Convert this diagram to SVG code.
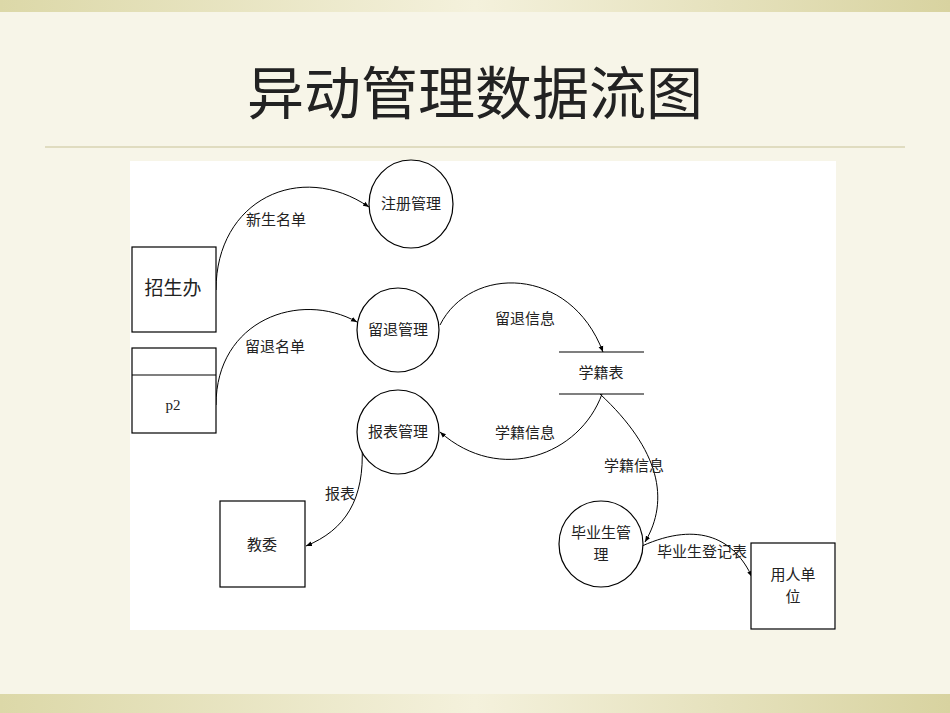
<svg xmlns="http://www.w3.org/2000/svg" width="950" height="713" viewBox="0 0 950 713">
<defs>
<linearGradient id="bar" x1="0" x2="1"><stop offset="0" stop-color="#dcd8a8"/><stop offset="0.5" stop-color="#f4f1dc"/><stop offset="1" stop-color="#d8d3a0"/></linearGradient>
<marker id="ar" viewBox="0 0 10 10" refX="10" refY="5" markerWidth="6" markerHeight="6" orient="auto"><path d="M0,1 L10,5 L0,9 z" fill="#000"/></marker>
</defs>
<style>
.n{fill:#fff;stroke:#000;stroke-width:1.2}
.c{fill:none;stroke:#000;stroke-width:1;marker-end:url(#ar)}
text{font-family:"Liberation Serif","Noto Sans CJK SC",serif;font-size:15px;fill:#222;text-anchor:middle}
</style>
<rect width="950" height="713" fill="#f7f5e8"/>
<rect width="950" height="12" fill="url(#bar)"/>
<rect y="694" width="950" height="19" fill="url(#bar)"/>
<text x="475" y="114" style="font-family:'Noto Sans CJK SC',sans-serif;font-size:57px;fill:#222">异动管理数据流图</text>
<line x1="45" y1="147" x2="905" y2="147" stroke="#e0dcc0" stroke-width="2"/>
<rect x="130" y="161" width="706" height="469" fill="#fff"/>
<g id="connectors">
<path class="c" d="M216,290 C216,200 300,160 369,207"/>
<path class="c" d="M216,405 C216,320 300,290 357,322"/>
<path class="c" d="M440,325 C470,265 570,265 603,352"/>
<path class="c" d="M602,394 C580,455 500,485 440,432"/>
<path class="c" d="M600,394 C660,450 670,500 645,542"/>
<path class="c" d="M362,445 C365,500 345,530 306,546"/>
<path class="c" d="M642,546 C700,520 735,540 752,577"/>
<text x="276" y="225">新生名单</text>
<text x="275" y="352">留退名单</text>
<text x="525" y="324">留退信息</text>
<text x="525" y="438">学籍信息</text>
<text x="634" y="471">学籍信息</text>
<text x="340" y="499">报表</text>
<text x="702" y="557">毕业生登记表</text>
</g>
<g id="zhuce"><ellipse class="n" cx="411" cy="204" rx="42" ry="44"/><text x="411" y="209">注册管理</text></g>
<g id="liutui"><ellipse class="n" cx="398" cy="330" rx="41" ry="42"/><text x="398" y="335">留退管理</text></g>
<g id="baobiao"><ellipse class="n" cx="398" cy="432" rx="41" ry="42"/><text x="398" y="437">报表管理</text></g>
<g id="biye"><ellipse class="n" cx="601" cy="544" rx="42" ry="43"/><text x="601" y="538">毕业生管</text><text x="601" y="560">理</text></g>
<g id="zhaosheng"><rect class="n" x="132" y="247" width="84" height="85"/><text x="173" y="295" style="font-size:19px">招生办</text></g>
<g id="p2"><rect class="n" x="132" y="348" width="84" height="85"/><line x1="132" y1="375" x2="216" y2="375" stroke="#000" stroke-width="1.2"/><text x="173" y="410">p2</text></g>
<g id="jiaowei"><rect class="n" x="220" y="501" width="85" height="86"/><text x="262" y="550">教委</text></g>
<g id="yongren"><rect class="n" x="751" y="543" width="84" height="86"/><text x="793" y="580">用人单</text><text x="793" y="602">位</text></g>
<g id="xueji"><line x1="559" y1="352" x2="644" y2="352" stroke="#000" stroke-width="1.2"/><line x1="559" y1="394" x2="644" y2="394" stroke="#000" stroke-width="1.2"/><text x="601" y="378">学籍表</text></g>
</svg>
